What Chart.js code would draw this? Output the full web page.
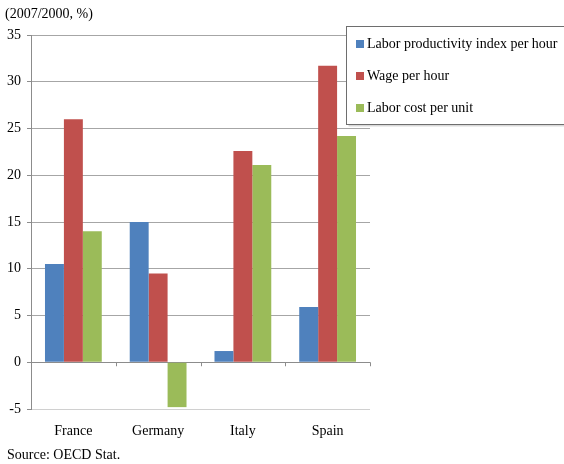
<!DOCTYPE html>
<html>
<head>
<meta charset="utf-8">
<script src="https://cdn.jsdelivr.net/npm/chart.js@4/dist/chart.umd.min.js"></script>
<style>
  html, body { margin: 0; padding: 0; background: #fff; }
  #wrap { position: relative; width: 564px; height: 464px; }
</style>
</head>
<body>
<div id="wrap"><canvas id="c" width="564" height="464"></canvas></div>
<script>
const countries = ['France', 'Germany', 'Italy', 'Spain'];
const productivity = [10.5, 15.0, 1.2, 5.9];
const wage = [26.0, 9.5, 22.6, 31.7];
const unitCost = [14.0, -4.8, 21.1, 24.2];
const seriesNames = ['Labor productivity index per hour', 'Wage per hour', 'Labor cost per unit'];
const seriesColors = ['#4F81BD', '#C0504D', '#9BBB59'];
const yTicks = [35, 30, 25, 20, 15, 10, 5, 0, -5];
const unitLabel = '(2007/2000, %)';
const sourceNote = 'Source: OECD Stat.';

const FONT = '"Liberation Serif", "Times New Roman", serif';

// Extra drawing: unit caption, source line, zero-line ticks and the boxed legend
const decorations = {
  id: 'decorations',
  afterDraw(chart) {
    const ctx = chart.ctx;
    const x = chart.scales.x, y = chart.scales.y;
    ctx.save();
    // zero line tick marks between categories
    const y0 = y.getPixelForValue(0);
    ctx.strokeStyle = '#8c8c8c';
    ctx.lineWidth = 1;
    for (let i = 0; i <= countries.length; i++) {
      const px = Math.round(x.left + i * (x.right - x.left) / countries.length) + 0.5;
      ctx.beginPath();
      ctx.moveTo(px, y0);
      ctx.lineTo(px, y0 + 4);
      ctx.stroke();
    }
    // captions
    ctx.fillStyle = '#000';
    ctx.font = '14px ' + FONT;
    ctx.textBaseline = 'middle';
    ctx.textAlign = 'left';
    ctx.fillText(unitLabel, 5, 14);
    ctx.fillText(sourceNote, 7, 455);

    // legend box with a soft shadow
    const bx = 346.5, by = 26.5, bw = 230, bh = 98;
    ctx.fillStyle = 'rgba(0,0,0,0.15)';
    ctx.fillRect(bx + 2, by + 2, bw, bh);
    ctx.fillStyle = '#fff';
    ctx.fillRect(bx, by, bw, bh);
    ctx.strokeStyle = '#6e6e6e';
    ctx.strokeRect(bx, by, bw, bh);
    chart.data.datasets.forEach((ds, i) => {
      const cy = 44 + i * 32;
      ctx.fillStyle = ds.backgroundColor;
      ctx.fillRect(356, cy - 4, 8, 8);
      ctx.fillStyle = '#000';
      ctx.font = '14px ' + FONT;
      ctx.fillText(ds.label, 367, cy);
    });
    ctx.restore();
  }
};

new Chart(document.getElementById('c'), {
  type: 'bar',
  data: {
    labels: countries,
    datasets: [
      { label: seriesNames[0], data: productivity, backgroundColor: seriesColors[0] },
      { label: seriesNames[1], data: wage, backgroundColor: seriesColors[1] },
      { label: seriesNames[2], data: unitCost, backgroundColor: seriesColors[2] }
    ]
  },
  options: {
    responsive: false,
    animation: false,
    layout: { padding: { left: 0, right: 194, top: 35, bottom: 0 } },
    datasets: { bar: { categoryPercentage: 0.67, barPercentage: 1.0, borderWidth: 0 } },
    plugins: { legend: { display: false }, tooltip: { enabled: false } },
    scales: {
      x: {
        grid: { display: false },
        border: { display: false },
        ticks: { color: '#000', font: { family: FONT, size: 14 }, padding: 6, maxRotation: 0 },
        afterFit(scale) { scale.height = 55; }
      },
      y: {
        min: -5, max: 35,
        afterBuildTicks(scale) { scale.ticks = yTicks.map(v => ({ value: v })); },
        afterFit(scale) { scale.width = 31; },
        grid: {
          color: ctx => ctx.tick && ctx.tick.value === -5 ? '#d0d0d0' : (ctx.tick && ctx.tick.value === 0 ? '#8c8c8c' : '#a6a6a6'),
          drawTicks: true,
          tickLength: 4,
          tickColor: '#8c8c8c'
        },
        border: { display: true, color: '#8c8c8c' },
        ticks: { color: '#000', font: { family: FONT, size: 14 }, padding: 6 }
      }
    }
  },
  plugins: [decorations]
});
</script>
</body>
</html>
